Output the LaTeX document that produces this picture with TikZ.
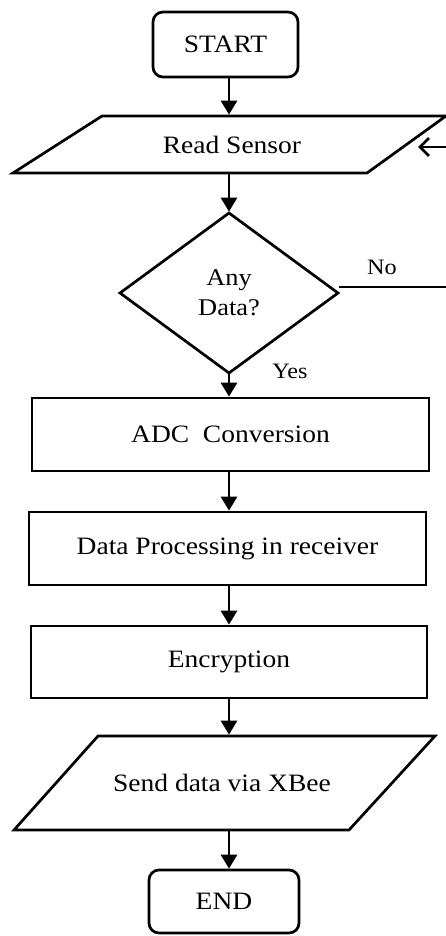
\documentclass[tikz,border=0pt]{standalone}
\usepackage{fontspec}
\setmainfont{Liberation Serif}[FakeStretch=1.1]
\usetikzlibrary{arrows.meta}
\begin{document}
\begin{tikzpicture}[x=1pt,y=-1pt,
  line width=2.7pt,
  lbl/.style={font=\fontsize{25pt}{30pt}\selectfont, inner sep=0pt, align=center},
  small/.style={font=\fontsize{22pt}{24pt}\selectfont, inner sep=0pt},
  term/.style={lbl, draw, rounded corners=10pt},
  proc/.style={lbl, draw},
  arr/.style={-{Triangle[length=14pt,width=16pt]}},
  barb/.style={-{Straight Barb[length=9pt,width=18pt]}}
]
\useasboundingbox (0,0) rectangle (446,936);
\coordinate (col) at (229,0);
% START
\node[term, minimum width=145pt, minimum height=65pt] (start) at (225.5,44.5) {START};
% Read Sensor (input/output)
\draw (13,173) -- (102,116) -- (446,116) -- (367,173) -- cycle;
\node[lbl, minimum width=200pt, minimum height=57pt] (rs) at (232,144.5) {Read Sensor};
% Decision
\draw (229,213) -- (338,293) -- (229,373) -- (120,293) -- cycle;
\node[lbl, font=\fontsize{24pt}{30pt}\selectfont, minimum width=218pt, minimum height=160pt] (dec) at (229,293) {Any\\Data?};
% Processes
\node[proc, minimum width=397pt, minimum height=73pt] (adc) at (230.5,434.5) {ADC\ \ Conversion};
\node[proc, minimum width=397pt, minimum height=73pt] (dp) at (227.5,548.5) {Data Processing in receiver};
\node[proc, minimum width=396pt, minimum height=72pt] (enc) at (229,662) {Encryption};
% Send data (input/output)
\draw (98,736) -- (435,736) -- (349,830) -- (14,830) -- cycle;
\node[lbl, minimum width=200pt, minimum height=94pt] (send) at (222,783) {Send data via XBee};
% END
\node[term, minimum width=150pt, minimum height=63pt] (end) at (224,901.5) {END};
% labels
\node[small] (yes) at (290,371) {Yes};
\node[small] (no) at (382,267) {No};
% connectors
\draw[arr] (col |- start.south) -- (col |- rs.north);
\draw[arr] (col |- rs.south) -- (col |- dec.north);
\draw[arr] (col |- dec.south) -- (col |- adc.north);
\draw[arr] (col |- adc.south) -- (col |- dp.north);
\draw[arr] (col |- dp.south) -- (col |- enc.north);
\draw[arr] (col |- enc.south) -- (col |- send.north);
\draw[arr] (col |- send.south) -- (col |- end.north);
\coordinate (noend) at (446,287);
\draw ([yshift=6pt]dec.east) -- (noend);
\coordinate (fbstart) at (446,147);
\coordinate (fbtip) at (418,147);
\draw[barb] (fbstart) -- (fbtip);
\end{tikzpicture}
\end{document}
